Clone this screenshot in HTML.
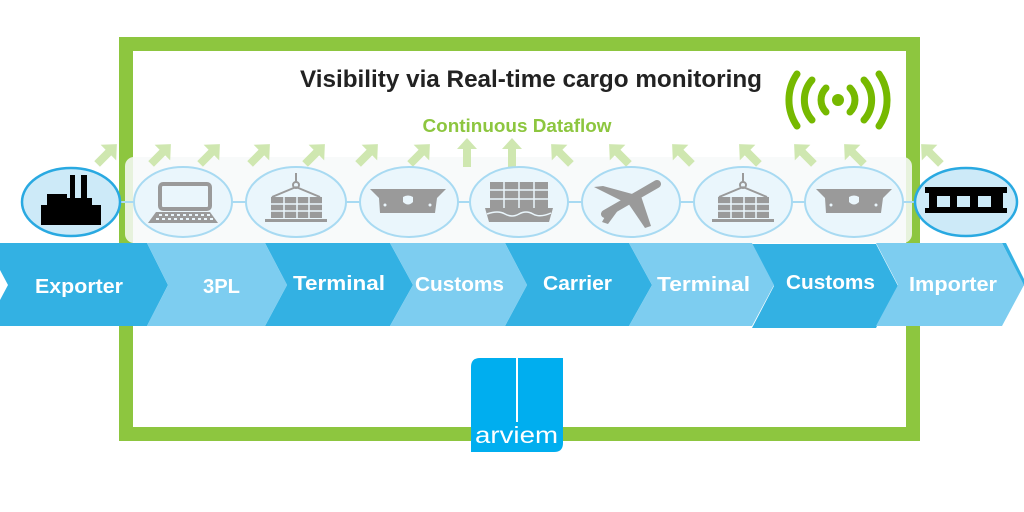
<!DOCTYPE html>
<html>
<head>
<meta charset="utf-8">
<style>
html,body{margin:0;padding:0;background:#fff;}
svg{display:block;}
text{font-family:"Liberation Sans",Arial,sans-serif;}
</style>
</head>
<body>
<svg width="1024" height="512" viewBox="0 0 1024 512" xmlns="http://www.w3.org/2000/svg">
  <rect width="1024" height="512" fill="#ffffff"/>

  <!-- green frame -->
  <rect x="126" y="44" width="787" height="390" fill="none" stroke="#8dc63f" stroke-width="14"/>

  <!-- title -->
  <text x="531" y="87" font-size="24" font-weight="bold" fill="#222222" text-anchor="middle" textLength="462" lengthAdjust="spacingAndGlyphs">Visibility via Real-time cargo monitoring</text>
  <text x="517" y="132" font-size="18" font-weight="bold" fill="#8dc63f" text-anchor="middle" textLength="189" lengthAdjust="spacingAndGlyphs">Continuous Dataflow</text>

  <!-- wifi icon -->
  <g fill="none" stroke="#76b900" stroke-width="7" stroke-linecap="round">
    <circle cx="838" cy="100" r="6" fill="#76b900" stroke="none"/>
    <path d="M826,88 A17,17 0 0 0 826,112"/>
    <path d="M850,88 A17,17 0 0 1 850,112"/>
    <path d="M812,80 A30,30 0 0 0 812,120"/>
    <path d="M864,80 A30,30 0 0 1 864,120"/>
    <path d="M797,74 A46,46 0 0 0 797,126"/>
    <path d="M879,74 A46,46 0 0 1 879,126"/>
  </g>

  <!-- translucent band -->
  <rect x="125" y="157" width="787" height="86" rx="9" fill="#f7f9f9" fill-opacity="0.85"/>

  <!-- arrows -->
  <g fill="#cfe7b0">
    <!-- NE arrows -->
    <path transform="translate(107,154) rotate(45) translate(0,-14)" d="M0,0 L11,12 L4,12 L4,28 L-4,28 L-4,12 L-11,12 Z"/>
    <path transform="translate(161,154) rotate(45) translate(0,-14)" d="M0,0 L11,12 L4,12 L4,28 L-4,28 L-4,12 L-11,12 Z"/>
    <path transform="translate(210,154) rotate(45) translate(0,-14)" d="M0,0 L11,12 L4,12 L4,28 L-4,28 L-4,12 L-11,12 Z"/>
    <path transform="translate(260,154) rotate(45) translate(0,-14)" d="M0,0 L11,12 L4,12 L4,28 L-4,28 L-4,12 L-11,12 Z"/>
    <path transform="translate(315,154) rotate(45) translate(0,-14)" d="M0,0 L11,12 L4,12 L4,28 L-4,28 L-4,12 L-11,12 Z"/>
    <path transform="translate(368,154) rotate(45) translate(0,-14)" d="M0,0 L11,12 L4,12 L4,28 L-4,28 L-4,12 L-11,12 Z"/>
    <path transform="translate(420,154) rotate(45) translate(0,-14)" d="M0,0 L11,12 L4,12 L4,28 L-4,28 L-4,12 L-11,12 Z"/>
    <!-- up arrows -->
    <path transform="translate(467,138)" d="M0,0 L10,11 L4,11 L4,29 L-4,29 L-4,11 L-10,11 Z"/>
    <path transform="translate(512,138)" d="M0,0 L10,11 L4,11 L4,29 L-4,29 L-4,11 L-10,11 Z"/>
    <!-- NW arrows -->
    <path transform="translate(561,154) rotate(-45) translate(0,-14)" d="M0,0 L11,12 L4,12 L4,28 L-4,28 L-4,12 L-11,12 Z"/>
    <path transform="translate(619,154) rotate(-45) translate(0,-14)" d="M0,0 L11,12 L4,12 L4,28 L-4,28 L-4,12 L-11,12 Z"/>
    <path transform="translate(682,154) rotate(-45) translate(0,-14)" d="M0,0 L11,12 L4,12 L4,28 L-4,28 L-4,12 L-11,12 Z"/>
    <path transform="translate(749,154) rotate(-45) translate(0,-14)" d="M0,0 L11,12 L4,12 L4,28 L-4,28 L-4,12 L-11,12 Z"/>
    <path transform="translate(804,154) rotate(-45) translate(0,-14)" d="M0,0 L11,12 L4,12 L4,28 L-4,28 L-4,12 L-11,12 Z"/>
    <path transform="translate(854,154) rotate(-45) translate(0,-14)" d="M0,0 L11,12 L4,12 L4,28 L-4,28 L-4,12 L-11,12 Z"/>
    <path transform="translate(931,154) rotate(-45) translate(0,-14)" d="M0,0 L11,12 L4,12 L4,28 L-4,28 L-4,12 L-11,12 Z"/>
  </g>

  <!-- connector line -->
  <line x1="110" y1="202" x2="930" y2="202" stroke="#a8daf2" stroke-width="2"/>

  <!-- ellipses -->
  <g fill="#eaf6fc" stroke="#a8daf2" stroke-width="2">
    <ellipse cx="183" cy="202" rx="49" ry="35"/>
    <ellipse cx="296" cy="202" rx="50" ry="35"/>
    <ellipse cx="409" cy="202" rx="49" ry="35"/>
    <ellipse cx="519" cy="202" rx="49" ry="35"/>
    <ellipse cx="631" cy="202" rx="49" ry="35"/>
    <ellipse cx="743" cy="202" rx="49" ry="35"/>
    <ellipse cx="854" cy="202" rx="49" ry="35"/>
  </g>
  <g fill="#cdeaf8" stroke="#29a9e1" stroke-width="2.5">
    <ellipse cx="71" cy="202" rx="49" ry="34"/>
    <ellipse cx="966" cy="202" rx="51" ry="34"/>
  </g>

  <!-- factory -->
  <path fill="#000" d="M41,225 L41,205 L47,205 L47,194 L67,194 L67,198 L70,198 L70,175 L75,175 L75,198 L81,198 L81,175 L87,175 L87,198 L92,198 L92,205 L101,205 L101,225 Z"/>

  <!-- warehouse -->
  <g fill="#000">
    <rect x="925" y="187" width="82" height="6"/>
    <rect x="929" y="193" width="74" height="15"/>
    <rect x="925" y="208" width="82" height="5"/>
  </g>
  <g fill="#cdeaf8">
    <rect x="937" y="196" width="13" height="11"/>
    <rect x="957" y="196" width="13" height="11"/>
    <rect x="978" y="196" width="13" height="11"/>
  </g>

  <!-- laptop -->
  <g fill="#9a9a9a">
    <rect x="160" y="184" width="50" height="25" rx="3" fill="none" stroke="#9a9a9a" stroke-width="4"/>
    <path d="M156,212 L210,212 L218,223 L148,223 Z"/>
  </g>
  <g fill="#eaf6fc">
    <rect x="159" y="214" width="3" height="2"/><rect x="165" y="214" width="3" height="2"/><rect x="171" y="214" width="3" height="2"/><rect x="177" y="214" width="3" height="2"/><rect x="183" y="214" width="3" height="2"/><rect x="189" y="214" width="3" height="2"/><rect x="195" y="214" width="3" height="2"/><rect x="201" y="214" width="3" height="2"/><rect x="207" y="214" width="3" height="2"/>
    <rect x="156" y="218" width="3" height="2"/><rect x="162" y="218" width="3" height="2"/><rect x="168" y="218" width="3" height="2"/><rect x="174" y="218" width="3" height="2"/><rect x="180" y="218" width="3" height="2"/><rect x="186" y="218" width="3" height="2"/><rect x="192" y="218" width="3" height="2"/><rect x="198" y="218" width="3" height="2"/><rect x="204" y="218" width="3" height="2"/><rect x="210" y="218" width="3" height="2"/>
  </g>

  <!-- crane containers -->
  <g>
    <line x1="296" y1="173" x2="296" y2="182" stroke="#9a9a9a" stroke-width="2"/>
    <circle cx="296" cy="185" r="3" fill="none" stroke="#9a9a9a" stroke-width="2"/>
    <path d="M296,187 L272,197 M296,187 L320,197" stroke="#9a9a9a" stroke-width="2"/>
    <rect x="271" y="197" width="51" height="21" fill="#9a9a9a"/>
    <path d="M284,197 V218 M297,197 V218 M309,197 V218 M271,204 H322 M271,211 H322" stroke="#eaf6fc" stroke-width="1.5"/>
    <rect x="265" y="219" width="62" height="3" fill="#9a9a9a"/>
  </g>
  <g transform="translate(447,0)">
    <line x1="296" y1="173" x2="296" y2="182" stroke="#9a9a9a" stroke-width="2"/>
    <circle cx="296" cy="185" r="3" fill="none" stroke="#9a9a9a" stroke-width="2"/>
    <path d="M296,187 L272,197 M296,187 L320,197" stroke="#9a9a9a" stroke-width="2"/>
    <rect x="271" y="197" width="51" height="21" fill="#9a9a9a"/>
    <path d="M284,197 V218 M297,197 V218 M309,197 V218 M271,204 H322 M271,211 H322" stroke="#eaf6fc" stroke-width="1.5"/>
    <rect x="265" y="219" width="62" height="3" fill="#9a9a9a"/>
  </g>

  <!-- customs ships -->
  <g>
    <path fill="#9a9a9a" d="M370,189 L446,189 L437,198 L435,213 L380,213 L379,198 Z"/>
    <path fill="#eaf6fc" d="M403,197 Q408,194 413,197 L413,202 Q408,207 403,202 Z"/>
    <circle cx="385" cy="205" r="1.5" fill="#eaf6fc"/><circle cx="430" cy="205" r="1.5" fill="#eaf6fc"/>
  </g>
  <g transform="translate(446,0)">
    <path fill="#9a9a9a" d="M370,189 L446,189 L437,198 L435,213 L380,213 L379,198 Z"/>
    <path fill="#eaf6fc" d="M403,197 Q408,194 413,197 L413,202 Q408,207 403,202 Z"/>
    <circle cx="385" cy="205" r="1.5" fill="#eaf6fc"/><circle cx="430" cy="205" r="1.5" fill="#eaf6fc"/>
  </g>

  <!-- container ship -->
  <rect x="490" y="182" width="58" height="26" fill="#9a9a9a"/>
  <path d="M504,182 V208 M519,182 V208 M534,182 V208 M490,190 H548 M490,199 H548" stroke="#eaf6fc" stroke-width="1.5"/>
  <path fill="#9a9a9a" d="M485,208 L553,208 L549,222 L489,222 Z"/>
  <path d="M487,214 Q498,210 505,214 Q512,218 519,214 Q526,210 533,214 Q540,218 551,213" fill="none" stroke="#eaf6fc" stroke-width="1.5"/>

  <!-- airplane -->
  <g fill="#9a9a9a">
    <line x1="605" y1="214" x2="657" y2="184" stroke="#9a9a9a" stroke-width="8" stroke-linecap="round"/>
    <path d="M594,187 L603,186 L636,195 L626,203 Z"/>
    <path d="M628,203 L641,196 L651,226 L645,228 Z"/>
    <path d="M611,206 L619,209 L608,224 L602,222 Z"/>
  </g>

  <!-- chevrons -->
  <g fill="#33b1e3">
    <path d="M0,243 L147,243 L168,285 L147,326 L0,326 L0,300 L8,285 L0,270 Z"/>
    <path d="M265,243 L390,243 L413,285 L390,326 L265,326 L287,285 Z"/>
    <path d="M505,243 L629,243 L652,285 L629,326 L505,326 L527,285 Z"/>
    <path d="M752,244 L876,244 L898,286 L876,328 L752,328 L774,286 Z"/>
    <path d="M1002,243 L1006,243 L1024,279 L1024,286 Z"/>
  </g>
  <g fill="#7dcdf0">
    <path d="M147,243 L265,243 L287,285 L265,326 L147,326 L168,285 Z"/>
    <path d="M390,243 L505,243 L527,285 L505,326 L390,326 L413,285 Z"/>
    <path d="M629,243 L752,243 L774,285 L752,326 L629,326 L652,285 Z"/>
    <path d="M876,243 L1002,243 L1024,285 L1002,326 L876,326 L898,285 Z"/>
  </g>

  <!-- chevron labels -->
  <g fill="#ffffff" font-size="20" font-weight="bold">
    <text x="35" y="293" textLength="88" lengthAdjust="spacingAndGlyphs">Exporter</text>
    <text x="203" y="293" textLength="37" lengthAdjust="spacingAndGlyphs">3PL</text>
    <text x="293" y="290" textLength="92" lengthAdjust="spacingAndGlyphs">Terminal</text>
    <text x="415" y="291" textLength="89" lengthAdjust="spacingAndGlyphs">Customs</text>
    <text x="543" y="290" textLength="69" lengthAdjust="spacingAndGlyphs">Carrier</text>
    <text x="657" y="291" textLength="93" lengthAdjust="spacingAndGlyphs">Terminal</text>
    <text x="786" y="289" textLength="89" lengthAdjust="spacingAndGlyphs">Customs</text>
    <text x="909" y="291" textLength="88" lengthAdjust="spacingAndGlyphs">Importer</text>
  </g>

  <!-- arviem logo -->
  <path fill="#00aeef" d="M480,358 H563 V443 Q563,452 554,452 H471 V367 Q471,358 480,358 Z"/>
  <rect x="516" y="358" width="2" height="64" fill="#ffffff"/>
  <text x="475" y="443" font-size="23" fill="#ffffff" textLength="83" lengthAdjust="spacingAndGlyphs">arviem</text>
</svg>
</body>
</html>
